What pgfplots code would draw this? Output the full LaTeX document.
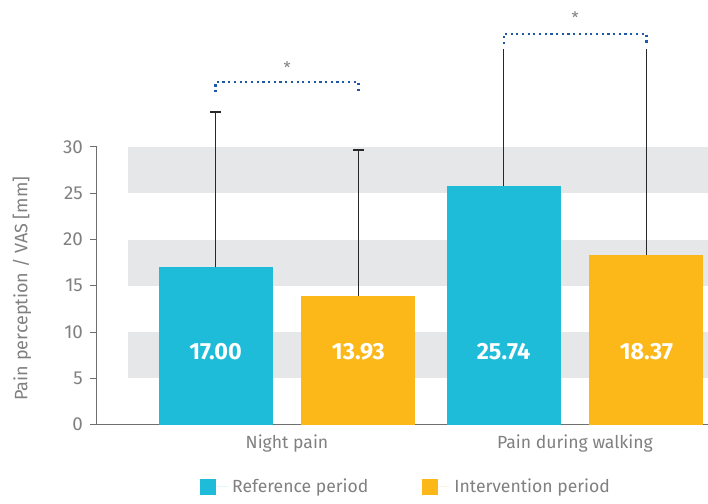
\documentclass[border=0pt]{standalone}
\usepackage{pgfplots}
\pgfplotsset{compat=1.18}
\usepackage{fontspec}
\setmainfont{Fira Sans}

\definecolor{refcyan}{RGB}{30,188,216}
\definecolor{intorange}{RGB}{251,184,24}
\definecolor{band}{RGB}{230,231,233}
\definecolor{sigblue}{RGB}{30,88,170}
\definecolor{txt}{RGB}{128,128,128}
\definecolor{axisgrey}{RGB}{110,110,110}
\definecolor{errcol}{RGB}{40,40,40}

\begin{document}
\begin{tikzpicture}
\begin{axis}[
  scale only axis, width=305.5pt, height=139pt,
  xmin=-0.66, xmax=1.46, ymin=0, ymax=30,
  axis x line=bottom, axis y line=left,
  axis line style={-, axisgrey, line width=0.5pt},
  clip=false,
  ytick={0,5,...,30},
  xtick={0,1}, xticklabels={Night pain, Pain during walking},
  major x tick style={draw=none},
  major y tick style={axisgrey, line width=0.5pt},
  tick align=outside, major tick length=3.5pt,
  /pgf/number format/assume math mode=true,
  yticklabel style={font=\fontsize{9.4}{11}\selectfont, text=txt},
  xticklabel style={font=\fontsize{8.8}{11}\selectfont, text=txt, yshift=2pt},
  ylabel={Pain perception / VAS [mm]},
  ylabel style={font=\fontsize{9}{11}\selectfont, text=txt,
    at={(axis description cs:-0.1227,0.49)}, anchor=center},
  legend style={at={(0.508,-0.223)}, anchor=center, draw=none, fill=none,
    legend columns=2, font=\fontsize{8.8}{11}\selectfont, text=txt,
    /tikz/every even column/.append style={column sep=25pt}},
  legend image code/.code={\fill[#1] (0pt,-4pt) rectangle (8pt,4pt);
    \path (0pt,0pt) -- (14pt,0pt);},
]

% alternating background bands
\addplot[fill=band, draw=none, forget plot] coordinates {(-0.552,5) (1.46,5) (1.46,10) (-0.552,10)} -- cycle;
\addplot[fill=band, draw=none, forget plot] coordinates {(-0.552,15) (1.46,15) (1.46,20) (-0.552,20)} -- cycle;
\addplot[fill=band, draw=none, forget plot] coordinates {(-0.552,25) (1.46,25) (1.46,30) (-0.552,30)} -- cycle;

% night pain: bars with capped SD
\addplot[ybar, bar width=57pt, bar shift=0pt, fill=refcyan, draw=none,
  error bars/.cd, y dir=plus, y explicit, error mark=|,
  error bar style={draw=errcol, line width=0.75pt},
  error mark options={draw=errcol, line width=0.75pt, mark size=2.6pt}]
  coordinates {(-0.248,17.00) +- (0,16.76)};
\addplot[ybar, bar width=57pt, bar shift=0pt, fill=intorange, draw=none,
  error bars/.cd, y dir=plus, y explicit, error mark=|,
  error bar style={draw=errcol, line width=0.75pt},
  error mark options={draw=errcol, line width=0.75pt, mark size=2.6pt}]
  coordinates {(0.248,13.93) +- (0,15.73)};

% pain during walking
\addplot[ybar, bar width=57pt, bar shift=0pt, fill=refcyan, draw=none, forget plot,
  error bars/.cd, y dir=plus, y explicit, error mark=none,
  error bar style={draw=errcol, line width=0.75pt}]
  coordinates {(0.752,25.74) +- (0,14.86)};
\addplot[ybar, bar width=57pt, bar shift=0pt, fill=intorange, draw=none, forget plot,
  error bars/.cd, y dir=plus, y explicit, error mark=none,
  error bar style={draw=errcol, line width=0.75pt}]
  coordinates {(1.248,18.37) +- (0,22.23)};

% value labels inside the bars
\addplot[draw=none, mark=none, forget plot, point meta=explicit,
  nodes near coords={\pgfmathprintnumber[fixed,fixed zerofill,precision=2]{\pgfplotspointmeta}},
  every node near coord/.append style={anchor=center, text=white,
    font=\bfseries\fontsize{11.7}{13}\selectfont}]
  coordinates {(-0.248,7.9) [17.00] (0.248,7.9) [13.93] (0.752,7.9) [25.74] (1.248,7.9) [18.37]};

% significance brackets
\addplot[sigblue, line width=1.1pt, dash pattern=on 1.1pt off 1.75pt, forget plot]
  coordinates {(-0.248,35.9) (-0.248,37.0) (0.248,37.0) (0.248,35.9)};
\addplot[sigblue, line width=1.1pt, dash pattern=on 1.1pt off 1.75pt, forget plot]
  coordinates {(0.752,41.1) (0.752,42.2) (1.248,42.2) (1.248,41.1)};
\node[text=txt, font=\fontsize{8}{9}\selectfont, inner sep=0pt] at (axis cs:0,38.6) {*};
\node[text=txt, font=\fontsize{8}{9}\selectfont, inner sep=0pt] at (axis cs:1,44.0) {*};

\legend{Reference period, Intervention period}

% overall canvas
\path (rel axis cs:0,0) ++(-48.5pt,-38pt) rectangle ++(354pt,250.5pt);
\end{axis}
\end{tikzpicture}
\end{document}
